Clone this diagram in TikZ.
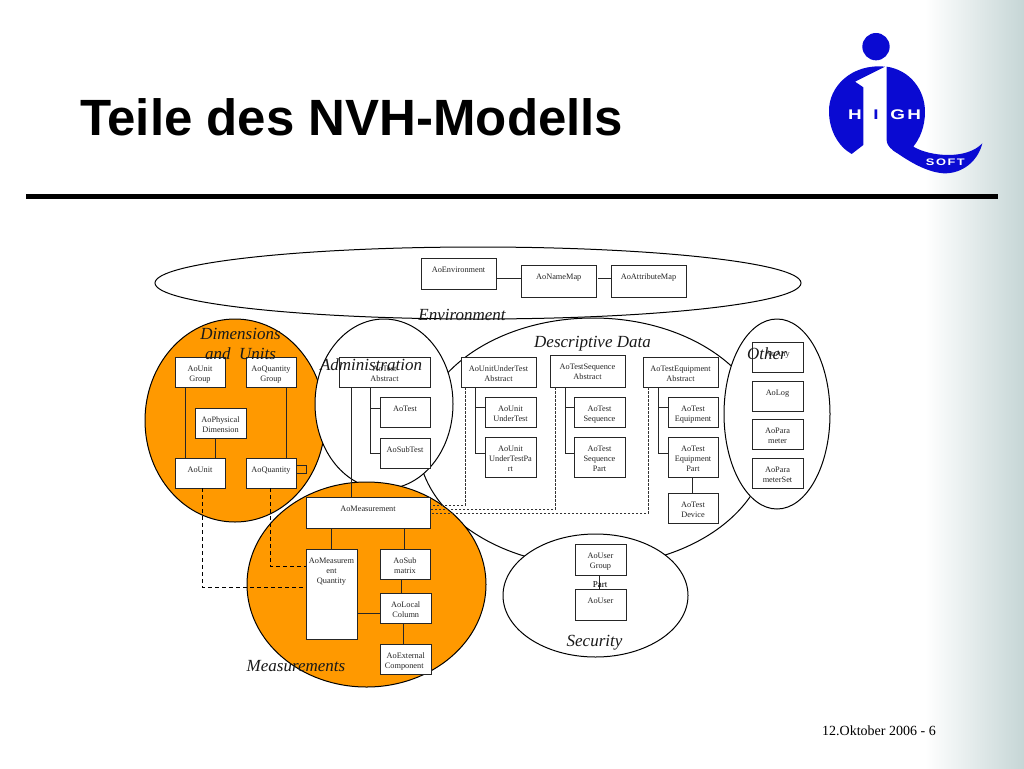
\documentclass[tikz,border=0pt]{standalone}
\usepackage{fontspec}
\setmainfont{Liberation Serif}
\newfontfamily\titlefont{Liberation Sans}
\newfontfamily\logofont[LetterSpace=12]{Liberation Sans}
\usepackage{tikz}
\definecolor{dimorange}{HTML}{FF9900}
\definecolor{logoblue}{HTML}{0A0AD2}
\definecolor{sideteal}{HTML}{C6D6D6}

\tikzset{
	aobox/.style = {draw=black!85, line width=1pt, fill=white, inner sep=0pt, outer sep=0pt, anchor=north west, font=\fontsize{8.3}{10}\selectfont, text=black!85},
	area/.style = {draw=black, line width=1pt},
	arealabel/.style = {font=\fontsize{17}{20}\selectfont\itshape, text=black!90},
	link/.style = {draw=black!85, line width=1pt},
	dashlink/.style = {draw=black, line width=0.9pt, dash pattern=on 4pt off 3pt},
	finedash/.style = {draw=black!80, line width=0.7pt, dash pattern=on 2.5pt off 1.5pt},
	logotext/.style = {inner sep=0pt, xscale=1.35}
}
% name, left, top, width, height, text
\newcommand{\aoitem}[6]{\node[aobox] (#1) at (#2,#3) {\parbox[c][#5pt][t]{#4pt}{\centering\rule{0pt}{14pt}#6}};}

\begin{document}
\begin{tikzpicture}[x=1pt,y=-1pt]
	\useasboundingbox (0,0) rectangle (1024,768);
	\shade[left color=white,right color=sideteal] (925,0) rectangle (1024,768);

	% title and footer
	\node[anchor=west,inner sep=0pt,font=\titlefont\bfseries\fontsize{51}{60}\selectfont] (title) at (80,117) {Teile des NVH-Modells};
	\coordinate (ruleL) at (26,196.5);
	\coordinate (ruleR) at (998,196.5);
	\draw[line width=5pt] (ruleL) -- (ruleR);
	\node[anchor=west,inner sep=0pt,font=\fontsize{14}{16}\selectfont] (footer) at (822,731) {12.Oktober 2006 - 6};

	% logo
	\begin{scope}[shift={(780,0)},x=0.3333pt,y=-0.3333pt]
		\fill[logoblue] (288,140) circle [radius=41pt/3];
		\fill[logoblue] (315,200) .. controls (215,190) and (145,260) .. (147,335) .. controls (147,390) and (175,440) .. (215,462) -- (250,435) -- (250,262) -- (225,245) -- cycle;
		\fill[logoblue] (320,200) .. controls (390,210) and (435,270) .. (435,335) .. controls (435,380) and (420,415) .. (400,440) .. controls (450,470) and (560,480) .. (607,430) .. controls (595,480) and (550,522) .. (490,520) .. controls (430,515) and (375,475) .. (340,452) .. controls (325,440) and (320,430) .. (320,420) -- cycle;
		\node[logotext,text=logoblue,font=\titlefont\bfseries\fontsize{14}{14}\selectfont] (logoI) at (288,343) {I};
		\node[logotext,text=white,font=\titlefont\bfseries\fontsize{14}{14}\selectfont] (logoH) at (225,343) {H};
		\node[logotext,text=white,font=\logofont\bfseries\fontsize{14}{14}\selectfont] (logoGH) at (377,343) {GH};
		\node[logotext,text=white,font=\logofont\bfseries\fontsize{9.5}{10}\selectfont] (logoS) at (496,488) {SOFT};
	\end{scope}

	% areas
	\draw[area,fill=white] (478,283) ellipse (323 and 36);
	\draw[area,fill=white] (593,442) ellipse (175 and 124);
	\draw[area,fill=dimorange] (235,420.5) ellipse (90 and 101.5);
	\draw[area,fill=white] (384,404) ellipse (69 and 85);
	\draw[area,fill=dimorange] (366.5,584.5) ellipse (119.5 and 102.5);
	\draw[area,fill=white] (595.5,595.5) ellipse (92.5 and 61.5);
	\draw[area,fill=white] (777,414) ellipse (53 and 95);

	% Environment
	\aoitem{env}{421}{258}{75}{31}{AoEnvironment}
	\aoitem{namemap}{521.5}{265.5}{74.5}{31.5}{AoNameMap}
	\aoitem{attrmap}{611}{265.5}{75}{31.5}{AoAttributeMap}

	% Dimensions
	\aoitem{unitgroup}{175}{357}{50}{30}{AoUnit\\Group}
	\aoitem{quantgroup}{246}{357}{50}{30}{AoQuantity\\Group}
	\aoitem{physdim}{195}{408}{51}{30}{AoPhysical\\Dimension}
	\aoitem{unit}{175}{458}{50}{30}{AoUnit}
	\aoitem{quantity}{246}{458}{50}{30}{AoQuantity}

	% Administration
	\aoitem{testabs}{339}{357}{91}{30}{AoTest\\Abstract}
	\aoitem{test}{380}{397}{50}{30}{AoTest}
	\aoitem{subtest}{380}{438}{50}{30}{AoSubTest}

	% Descriptive data
	\aoitem{uutabs}{461}{357}{75}{30}{AoUnitUnderTest\\Abstract}
	\aoitem{uut}{485}{397}{51}{30}{AoUnit\\UnderTest}
	\aoitem{uutpart}{485}{437}{51}{40}{AoUnit\\UnderTestPa\\rt}
	\aoitem{seqabs}{550}{355.5}{75}{31.5}{AoTestSequence\\Abstract}
	\aoitem{seq}{574}{397}{51}{30}{AoTest\\Sequence}
	\aoitem{seqpart}{574}{437}{51}{40}{AoTest\\Sequence\\Part}
	\aoitem{eqabs}{643}{357}{75}{30}{AoTestEquipment\\Abstract}
	\aoitem{equip}{668}{397}{50}{30}{AoTest\\Equipment}
	\aoitem{eqpart}{668}{437}{50}{40}{AoTest\\Equipment\\Part}
	\aoitem{device}{668}{493}{50}{30}{AoTest\\Device}

	% Other
	\aoitem{any}{752}{342}{51}{30}{AoAny}
	\aoitem{log}{752}{381}{51}{30}{AoLog}
	\aoitem{param}{752}{419}{51}{30}{AoPara\\meter}
	\aoitem{paramset}{752}{458}{51}{30}{AoPara\\meterSet}

	% Measurements
	\aoitem{meas}{306}{497}{124}{31}{AoMeasurement}
	\aoitem{measq}{306}{549}{51}{90}{AoMeasurem\\ent\\Quantity}
	\aoitem{submatrix}{380}{549}{50}{30}{AoSub\\matrix}
	\aoitem{localcol}{380.5}{593}{50.5}{30}{AoLocal\\Column}
	\aoitem{extcomp}{380.5}{644}{50.5}{30}{AoExternal\\\hspace*{-3pt}Component}

	% Security
	\aoitem{usergroup}{575}{544}{51}{31}{AoUser\\Group}
	\aoitem{user}{575}{589}{51}{31}{AoUser}

	% connectors
	\draw[link] ([yshift=-4.5pt]env.east) -- ([yshift=3.25pt]namemap.west);
	\draw[link] ([xshift=2pt,yshift=3.25pt]namemap.east) -- ([yshift=3.25pt]attrmap.west);

	\draw[link] ([xshift=10pt]unitgroup.south west) -- ([xshift=10pt]unit.north west);
	\draw[link] ([xshift=40pt]quantgroup.south west) -- ([xshift=40pt]quantity.north west);
	\draw[link] ([xshift=20pt]physdim.south west) -- ([xshift=40pt]unit.north west);
	\draw[link] ([yshift=8pt]quantity.east) -- +(10,0) -- +(10,8) -- +(0,8);

	\draw[link] ([xshift=12pt]testabs.south west) -- ([xshift=45pt]meas.north west);
	\draw[link] ([xshift=31pt]testabs.south west) |- ([yshift=4pt]test.west);
	\draw[link] ([xshift=31pt]testabs.south west) |- (subtest.west);

	\draw[link] ([xshift=14pt]uutabs.south west) |- ([yshift=5pt]uut.west);
	\draw[link] ([xshift=14pt]uutabs.south west) |- ([yshift=4pt]uutpart.west);
	\draw[link] ([xshift=15pt]seqabs.south west) |- ([yshift=5pt]seq.west);
	\draw[link] ([xshift=15pt]seqabs.south west) |- ([yshift=4pt]seqpart.west);
	\draw[link] ([xshift=15pt]eqabs.south west) |- ([yshift=5pt]equip.west);
	\draw[link] ([xshift=15pt]eqabs.south west) |- ([yshift=4pt]eqpart.west);
	\draw[link] ([xshift=24pt]eqpart.south west) -- ([xshift=24pt]device.north west);

	\draw[link] ([xshift=25pt]meas.south west) -- ([xshift=25pt]measq.north west);
	\draw[link] ([xshift=98pt]meas.south west) -- ([xshift=24pt]submatrix.north west);
	\draw[link] ([xshift=21pt]submatrix.south west) -- ([xshift=20.5pt]localcol.north west);
	\draw[link] ([xshift=22.5pt]localcol.south west) -- ([xshift=22.5pt]extcomp.north west);
	\draw[link] ([yshift=-19pt]measq.east) -- ([yshift=-5pt]localcol.west);
	\draw[link] ([xshift=24pt]usergroup.south west) -- ([xshift=24pt]user.north west);

	% dashed references
	\draw[dashlink] ([xshift=27pt]unit.south west) |- ([yshift=7pt]measq.west);
	\draw[dashlink] ([xshift=24pt]quantity.south west) |- ([yshift=28pt]measq.west);
	\draw[finedash] ([xshift=4pt]uutabs.south west) |- ([yshift=7.5pt]meas.east);
	\draw[finedash] ([xshift=5pt]seqabs.south west) |- ([yshift=3.5pt]meas.east);
	\draw[finedash] ([xshift=5pt]eqabs.south west) |- ([yshift=-0.5pt]meas.east);

	% labels
	\node[inner sep=0pt,font=\fontsize{9}{10}\selectfont] (partlbl) at (600,585) {Part};
	\node[arealabel,inner sep=0pt] (lblenv) at (462,315) {Environment};
	\node[arealabel,inner sep=0pt] (lbldesc) at (592.5,344) {Descriptive Data};
	\node[arealabel,inner sep=0pt] (lblother) at (767,354) {Other};
	\node[arealabel,inner sep=0pt] (lbladmin) at (371,365) {Administration};
	\node[arealabel,inner sep=0pt] (lbldim) at (240.5,334) {Dimensions};
	\node[arealabel,inner sep=0pt] (lblunits) at (240.5,354) {and\ \ Units};
	\node[arealabel,inner sep=0pt] (lblmeas) at (296,666) {Measurements};
	\node[arealabel,inner sep=0pt] (lblsec) at (594.5,643) {Security};
\end{tikzpicture}
\end{document}
